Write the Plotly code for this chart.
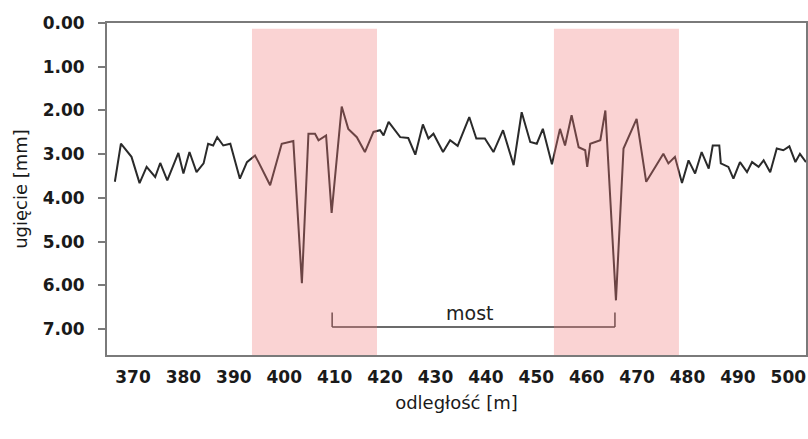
import plotly.graph_objects as go

# --- data ---
distance_m = [366.4, 367.6, 369.7, 371.3, 372.7, 374.4, 375.4, 376.8, 379.0, 380.0,
              381.2, 382.6, 384.0, 384.9, 385.9, 386.7, 387.9, 389.3, 391.2, 392.6,
              394.2, 394.9, 397.2, 399.5, 401.8, 403.5, 404.8, 406.1, 406.8, 408.3,
              409.4, 411.4, 412.7, 414.4, 416.0, 417.7, 419.0, 419.7, 420.7, 423.0,
              424.6, 426.0, 427.5, 428.6, 429.6, 431.5, 432.9, 434.4, 436.7, 438.1,
              439.8, 441.5, 443.4, 445.5, 447.1, 448.8, 450.1, 451.3, 453.1, 454.7,
              455.7, 457.0, 458.4, 459.7, 460.1, 460.7, 462.7, 463.7, 465.8, 467.3,
              469.9, 471.8, 473.6, 475.2, 476.2, 477.5, 478.9, 480.2, 481.5, 482.8,
              484.2, 485.0, 486.3, 486.6, 488.1, 489.1, 490.4, 491.8, 492.8, 494.1,
              495.1, 496.4, 497.7, 499.0, 500.2, 501.4, 502.3, 503.5]
deflection_mm = [3.63, 2.76, 3.06, 3.66, 3.29, 3.52, 3.20, 3.60, 2.97, 3.44,
                 2.95, 3.41, 3.21, 2.76, 2.80, 2.61, 2.80, 2.76, 3.56, 3.18,
                 3.03, 3.18, 3.71, 2.76, 2.70, 5.95, 2.53, 2.53, 2.68, 2.57,
                 4.34, 1.91, 2.42, 2.61, 2.95, 2.49, 2.45, 2.57, 2.26, 2.61,
                 2.63, 3.01, 2.32, 2.64, 2.53, 2.95, 2.68, 2.81, 2.15, 2.64,
                 2.64, 2.95, 2.45, 3.25, 2.04, 2.72, 2.76, 2.42, 3.23, 2.42,
                 2.80, 2.11, 2.84, 2.91, 3.29, 2.76, 2.68, 2.00, 6.34, 2.87,
                 2.19, 3.63, 3.29, 2.99, 3.21, 3.06, 3.66, 3.14, 3.44, 2.95,
                 3.33, 2.80, 2.80, 3.21, 3.29, 3.56, 3.18, 3.41, 3.18, 3.29,
                 3.14, 3.41, 2.87, 2.91, 2.82, 3.18, 2.99, 3.18]

x_ticks = [370, 380, 390, 400, 410, 420, 430, 440, 450, 460, 470, 480, 490, 500]
y_ticks = [0, 1, 2, 3, 4, 5, 6, 7]
y_tick_labels = ["0.00", "1.00", "2.00", "3.00", "4.00", "5.00", "6.00", "7.00"]

# shaded transition zones (start, end) in metres
zones = [(393.6, 418.4), (453.5, 478.3)]
# bridge span marked by the bracket
bridge_start, bridge_end = 409.5, 465.6
bracket_y, bracket_tick_top = 6.95, 6.62
bridge_label = "most"

x_range = [364.84, 503.5]
y_range = [7.59, 0]

fig = go.Figure()

fig.add_trace(go.Scatter(
    x=distance_m, y=deflection_mm, mode="lines",
    line=dict(color="#2a2a2a", width=2), showlegend=False, hoverinfo="x+y"))

# bracket for bridge
fig.add_trace(go.Scatter(
    x=[bridge_start, bridge_start, None, bridge_start, bridge_end, None, bridge_end, bridge_end],
    y=[bracket_tick_top, bracket_y, None, bracket_y, bracket_y, None, bracket_tick_top, bracket_y],
    mode="lines", line=dict(color="#3a3a3a", width=1.5), showlegend=False, hoverinfo="skip"))

fig.add_annotation(x=(bridge_start + bridge_end) / 2 - 0.8, y=bracket_y, yshift=14,
                   text=bridge_label, showarrow=False,
                   font=dict(family="DejaVu Sans", size=19, color="#222222"))

for z0, z1 in zones:
    fig.add_shape(type="rect", xref="x", yref="y", x0=z0, x1=z1, y0=0.13, y1=y_range[0],
                  fillcolor="rgba(240,120,120,0.33)", line=dict(width=0), layer="above")

fig.update_xaxes(
    range=x_range, tickvals=x_ticks, ticktext=[str(v) for v in x_ticks],
    showgrid=False, zeroline=False, showline=True, linecolor="#7a7a7a", linewidth=2,
    mirror=True, ticks="", ticklabelstandoff=6, automargin=False,
    tickfont=dict(family="DejaVu Sans", size=17, color="#1a1a1a", weight="bold"),
    title=dict(text="odległość [m]", standoff=10,
               font=dict(family="DejaVu Sans", size=18, color="#1a1a1a")))

fig.update_yaxes(
    range=y_range, tickvals=y_ticks, ticktext=y_tick_labels,
    showgrid=False, zeroline=False, showline=True, linecolor="#7a7a7a", linewidth=2,
    mirror=True, ticks="outside", ticklen=7, tickwidth=2, tickcolor="#7a7a7a",
    ticklabelstandoff=10, automargin=False,
    tickfont=dict(family="DejaVu Sans", size=17, color="#1a1a1a", weight="bold"),
    title=dict(text="ugięcie [mm]", standoff=10,
               font=dict(family="DejaVu Sans", size=18, color="#1a1a1a")))

fig.update_layout(
    width=808, height=439, autosize=False,
    margin=dict(l=107, r=2, t=23, b=84),
    plot_bgcolor="white", paper_bgcolor="white",
    showlegend=False)

fig.write_html("out.html", config={"displayModeBar": False},
               post_script="document.body.style.margin='0';")
